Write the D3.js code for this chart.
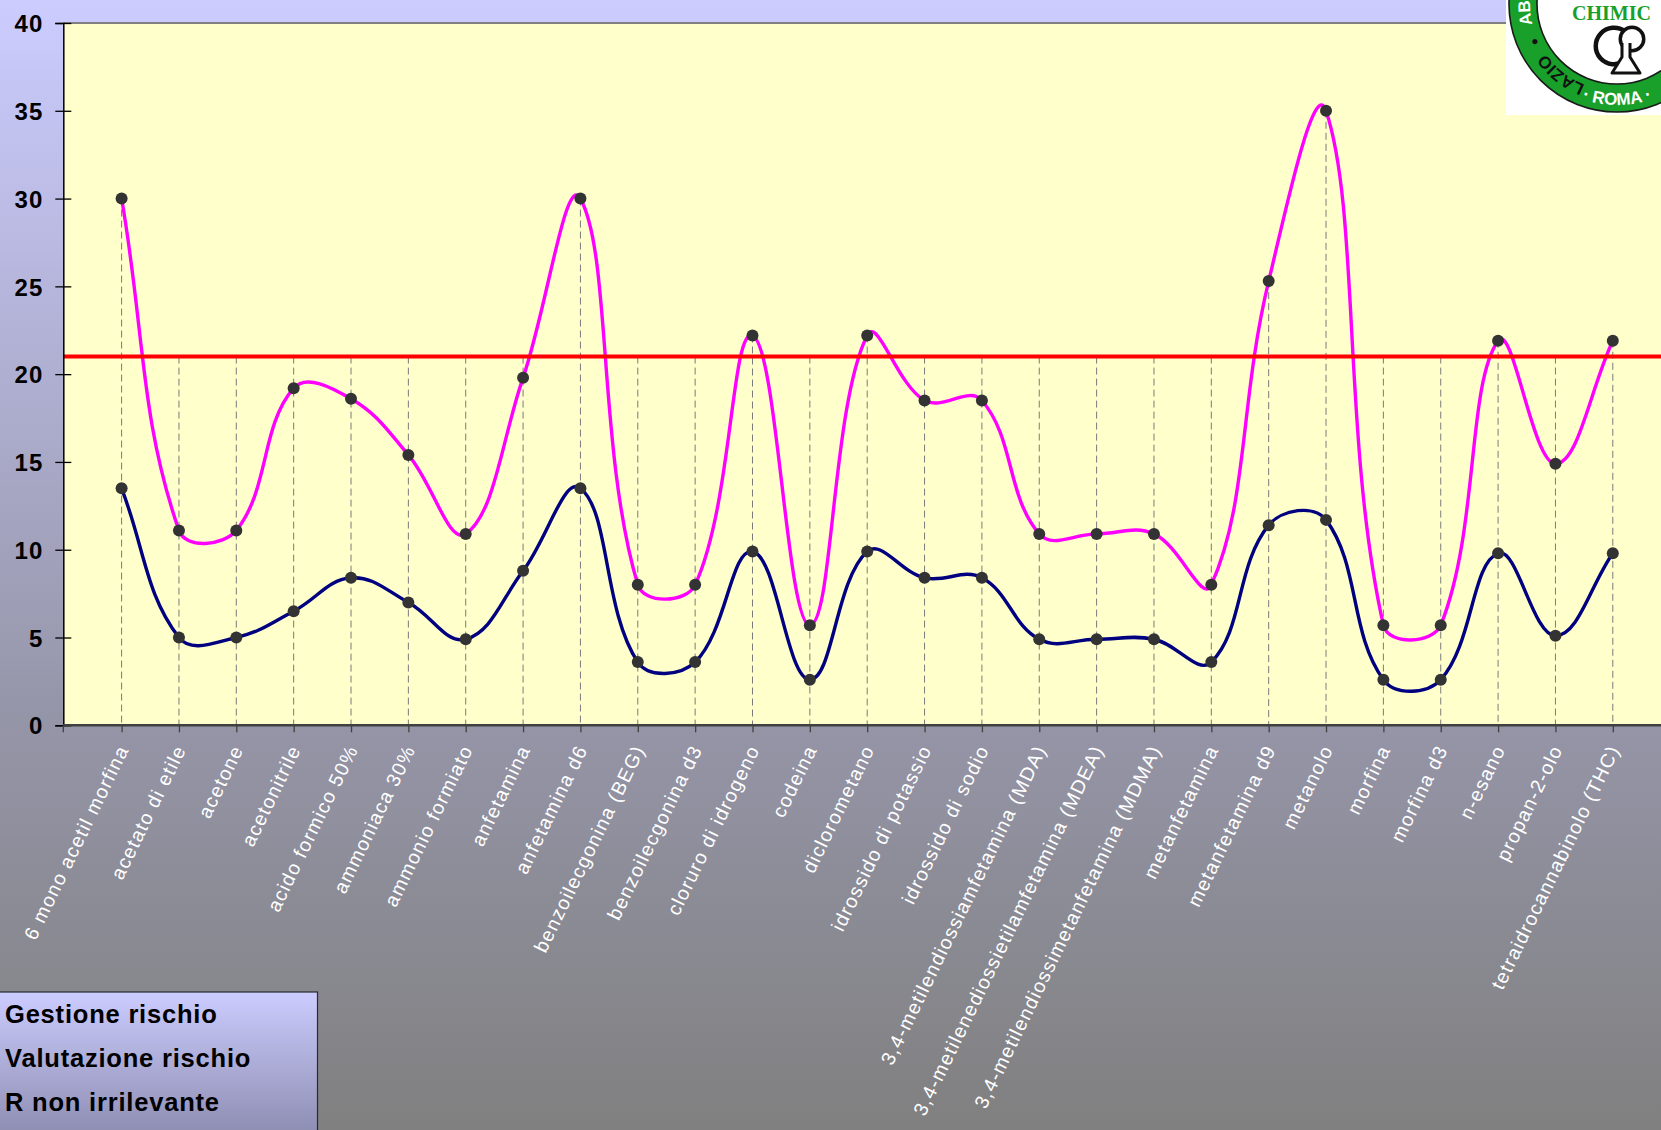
<!DOCTYPE html>
<html>
<head>
<meta charset="utf-8">
<script src="https://cdn.jsdelivr.net/npm/d3@7"></script>
<style>
  html, body { margin: 0; padding: 0; background: #808080; }
  svg { display: block; font-family: "Liberation Sans", Arial, sans-serif; }
</style>
</head>
<body>
<svg id="chart" width="1661" height="1130"></svg>
<script>
// Sostanze analizzate
const categories = [
  "6 mono acetil morfina", "acetato di etile", "acetone", "acetonitrile",
  "acido formico 50%", "ammoniaca 30%", "ammonio formiato", "anfetamina",
  "anfetamina d6", "benzoilecgonina (BEG)", "benzoilecgonina d3",
  "cloruro di idrogeno", "codeina", "diclorometano", "idrossido di potassio",
  "idrossido di sodio", "3,4-metilendiossiamfetamina (MDA)",
  "3,4-metilenediossietilamfetamina (MDEA)", "3,4-metilendiossimetanfetamina (MDMA)",
  "metanfetamina", "metanfetamina d9", "metanolo", "morfina", "morfina d3",
  "n-esano", "propan-2-olo", "tetraidrocannabinolo (THC)"
];

// Indice di rischio dopo le misure di gestione
const gestioneRischio = [13.5, 5.0, 5.0, 6.5, 8.4, 7.0, 4.9, 8.8, 13.5, 3.6, 3.6, 9.9, 2.6,
  9.9, 8.4, 8.4, 4.9, 4.9, 4.9, 3.6, 11.4, 11.7, 2.6, 2.6, 9.8, 5.1, 9.8];

// Indice di rischio della valutazione iniziale
const valutazioneRischio = [30, 11.1, 11.1, 19.2, 18.6, 15.4, 10.9, 19.8, 30, 8.0, 8.0, 22.2, 5.7,
  22.2, 18.5, 18.5, 10.9, 10.9, 10.9, 8.0, 25.3, 35, 5.7, 5.7, 21.9, 14.9, 21.9];

// Soglia oltre la quale il rischio non e' irrilevante
const rNonIrrilevante = 21;

const yTicks = [0, 5, 10, 15, 20, 25, 30, 35, 40];
const legendLabels = ["Gestione rischio", "Valutazione rischio", "R non irrilevante"];

const W = 1661, H = 1130;
const plot = { left: 63.3, top: 23, bottom: 725.3, right: 1669 };

const svg = d3.select("#chart");
const defs = svg.append("defs");

const bgGrad = defs.append("linearGradient").attr("id", "bgGrad")
  .attr("x1", 0).attr("y1", 0).attr("x2", 0).attr("y2", 1);
bgGrad.append("stop").attr("offset", "0%").attr("stop-color", "#ccccff");
bgGrad.append("stop").attr("offset", "62%").attr("stop-color", "#9696aa");
bgGrad.append("stop").attr("offset", "100%").attr("stop-color", "#808080");

const legGrad = defs.append("linearGradient").attr("id", "legGrad")
  .attr("x1", 0).attr("y1", 0).attr("x2", 0).attr("y2", 1);
legGrad.append("stop").attr("offset", "0%").attr("stop-color", "#ccccff");
legGrad.append("stop").attr("offset", "100%").attr("stop-color", "#8a8aae");

svg.append("rect").attr("width", W).attr("height", H).attr("fill", "url(#bgGrad)");

// Scale
const x = d3.scalePoint().domain(categories).range([121.6, 1612.8]);
const y = d3.scaleLinear().domain([0, 40]).range([plot.bottom, plot.top]);

// Area del grafico
svg.append("rect")
  .attr("x", plot.left).attr("y", plot.top)
  .attr("width", plot.right - plot.left).attr("height", plot.bottom - plot.top)
  .attr("fill", "#ffffcc");
svg.append("line")
  .attr("x1", plot.left).attr("x2", plot.right)
  .attr("y1", plot.top).attr("y2", plot.top)
  .attr("stroke", "#808080").attr("stroke-width", 2);

// Linee di proiezione verticali
const dropTop = categories.map((c, i) => Math.max(gestioneRischio[i], valutazioneRischio[i], rNonIrrilevante));
svg.append("g").selectAll("line").data(categories).join("line")
  .attr("x1", d => x(d)).attr("x2", d => x(d))
  .attr("y1", (d, i) => y(dropTop[i])).attr("y2", y(0))
  .attr("stroke", "#7a7a7a").attr("stroke-width", 1)
  .attr("stroke-dasharray", "7,4");

// Curva smussata: tangenti pesate sulla lunghezza dei segmenti adiacenti
function SmoothSegments(context) { this._context = context; }
SmoothSegments.prototype = {
  areaStart() {}, areaEnd() {},
  lineStart() { this._xs = []; this._ys = []; },
  point(px, py) { this._xs.push(+px); this._ys.push(+py); },
  lineEnd() {
    const xs = this._xs, ys = this._ys, n = xs.length, c = this._context, s = 0.4;
    if (!n) return;
    const dist = (a, b) => Math.hypot(xs[b] - xs[a], ys[b] - ys[a]);
    c.moveTo(xs[0], ys[0]);
    for (let i = 0; i < n - 1; i++) {
      const i0 = Math.max(i - 1, 0), i3 = Math.min(i + 2, n - 1);
      const d01 = dist(i0, i), d12 = dist(i, i + 1), d23 = dist(i + 1, i3);
      const f1 = (d01 + d12) > 0 ? d12 / (d01 + d12) : 0;
      const f2 = (d12 + d23) > 0 ? d12 / (d12 + d23) : 0;
      c.bezierCurveTo(
        xs[i] + (xs[i + 1] - xs[i0]) * f1 * s, ys[i] + (ys[i + 1] - ys[i0]) * f1 * s,
        xs[i + 1] - (xs[i3] - xs[i]) * f2 * s, ys[i + 1] - (ys[i3] - ys[i]) * f2 * s,
        xs[i + 1], ys[i + 1]);
    }
  }
};
const smoothCurve = ctx => new SmoothSegments(ctx);

const line = d3.line()
  .x((d, i) => x(categories[i]))
  .y(d => y(d))
  .curve(smoothCurve);

svg.append("path").datum(gestioneRischio)
  .attr("d", line).attr("fill", "none")
  .attr("stroke", "#000080").attr("stroke-width", 3.4).attr("stroke-linejoin", "round");
svg.append("path").datum(valutazioneRischio)
  .attr("d", line).attr("fill", "none")
  .attr("stroke", "#ff00ff").attr("stroke-width", 3.4).attr("stroke-linejoin", "round");

// Soglia
svg.append("line")
  .attr("x1", plot.left).attr("x2", plot.right)
  .attr("y1", y(rNonIrrilevante)).attr("y2", y(rNonIrrilevante))
  .attr("stroke", "#ff0000").attr("stroke-width", 4);

// Marcatori
[gestioneRischio, valutazioneRischio].forEach(serie => {
  svg.append("g").selectAll("circle").data(serie).join("circle")
    .attr("cx", (d, i) => x(categories[i]))
    .attr("cy", d => y(d))
    .attr("r", 6)
    .attr("fill", "#333333");
});

// Asse Y
const yAxis = svg.append("g")
  .attr("transform", `translate(${plot.left},0)`)
  .call(d3.axisLeft(y).tickValues(yTicks).tickSize(8).tickPadding(0).tickFormat(d3.format("d")));
yAxis.select(".domain").attr("stroke", "#000").attr("stroke-width", 1.5);
yAxis.selectAll(".tick line").attr("x1", 8).attr("x2", -8).attr("stroke", "#000").attr("stroke-width", 1.3);
yAxis.selectAll(".tick text")
  .attr("x", -20).attr("dy", "0.36em")
  .attr("fill", "#000")
  .style("font-family", "'Liberation Sans', Arial, sans-serif")
  .style("font-size", "24px").style("font-weight", "bold")
  .style("letter-spacing", "1px");

// Asse X
const xAxis = svg.append("g")
  .attr("transform", `translate(0,${plot.bottom})`)
  .call(d3.axisBottom(x).tickSize(7).tickSizeOuter(0));
xAxis.select(".domain").remove();
xAxis.append("line")
  .attr("x1", plot.left).attr("x2", plot.right).attr("y1", 0).attr("y2", 0)
  .attr("stroke", "#404040").attr("stroke-width", 2.5);
xAxis.append("line")
  .attr("x1", plot.left).attr("x2", plot.left).attr("y1", 0).attr("y2", 7)
  .attr("stroke", "#404040").attr("stroke-width", 1.3);
xAxis.selectAll(".tick line").attr("stroke", "#404040").attr("stroke-width", 1.3);
xAxis.selectAll(".tick text")
  .attr("x", 0).attr("y", 0).attr("dy", "0.35em")
  .attr("transform", "translate(1,21) rotate(-64)")
  .attr("text-anchor", "end")
  .attr("fill", "#ffffff")
  .style("font-family", "'Liberation Sans', Arial, sans-serif")
  .style("font-size", "19.5px")
  .style("letter-spacing", "1.3px");

// Legenda
const legend = svg.append("g");
legend.append("rect")
  .attr("x", -1).attr("y", 992).attr("width", 318.5).attr("height", 150)
  .attr("fill", "url(#legGrad)").attr("stroke", "#2a2a2a").attr("stroke-width", 1.2);
legend.selectAll("text").data(legendLabels).join("text")
  .attr("x", 5).attr("y", (d, i) => 1023 + i * 44)
  .attr("fill", "#000")
  .style("font-size", "25.5px").style("font-weight", "bold").style("letter-spacing", "0.8px")
  .text(d => d);

// Logo dell'Ordine
const logo = svg.append("g");
const cx = 1617, cy = 4;
logo.append("rect").attr("x", 1506).attr("y", 0).attr("width", 160).attr("height", 115).attr("fill", "#ffffff");
logo.append("circle").attr("cx", cx).attr("cy", cy).attr("r", 108)
  .attr("fill", "#19a02a").attr("stroke", "#1a1a1a").attr("stroke-width", 1.6);
logo.append("circle").attr("cx", cx).attr("cy", cy).attr("r", 80)
  .attr("fill", "#ffffff").attr("stroke", "#1a1a1a").attr("stroke-width", 1.6);

function ringPath(r, clockwise) {
  const sw = clockwise ? 1 : 0;
  if (clockwise) {
    return `M${cx + r},${cy} A${r},${r} 0 1 ${sw} ${cx - r},${cy} A${r},${r} 0 1 ${sw} ${cx + r},${cy}`;
  }
  return `M${cx - r},${cy} A${r},${r} 0 1 ${sw} ${cx + r},${cy} A${r},${r} 0 1 ${sw} ${cx - r},${cy}`;
}
defs.append("path").attr("id", "ringCW").attr("d", ringPath(87, true));
defs.append("path").attr("id", "ringCCW").attr("d", ringPath(101, false));

const ringText = (href, offset, txt, fill, size, anchor) => {
  logo.append("text")
    .style("font-family", "'Liberation Sans Narrow', 'Liberation Sans', Arial, sans-serif")
    .style("font-size", size + "px").style("font-weight", "bold")
    .attr("fill", fill)
    .append("textPath").attr("href", href)
    .attr("startOffset", offset).attr("text-anchor", anchor || "start")
    .text(txt);
};
ringText("#ringCW", "31%", "LAZIO", "#111111", 17);
ringText("#ringCW", "42.5%", "\u25CF", "#111111", 12);
ringText("#ringCW", "46.2%", "AB", "#ffffff", 17);
ringText("#ringCCW", "25%", "\u00B7 ROMA \u00B7", "#ffffff", 17, "middle");

logo.append("text")
  .attr("x", 1572).attr("y", 20)
  .attr("fill", "#19a02a")
  .style("font-family", "'Liberation Serif', 'Times New Roman', serif")
  .style("font-size", "20px").style("font-weight", "bold")
  .text("CHIMIC");

// Simbolo: C, anello e beuta
const arcGen = d3.arc();
logo.append("path")
  .attr("transform", "translate(1614,46)")
  .attr("d", arcGen({ innerRadius: 16, outerRadius: 20.5, startAngle: 2.5, endAngle: 2 * Math.PI + 0.65 }))
  .attr("fill", "#111");
logo.append("path")
  .attr("transform", "translate(1632,39)")
  .attr("d", arcGen({ innerRadius: 10, outerRadius: 13.5, startAngle: 0, endAngle: 2 * Math.PI }))
  .attr("fill", "#111");
logo.append("path")
  .attr("d", "M1622,43 L1622,57 L1612,73 L1640,73 L1630,57 L1630,43")
  .attr("fill", "#ffffff").attr("stroke", "#111").attr("stroke-width", 3).attr("stroke-linejoin", "round");
</script>
</body>
</html>
